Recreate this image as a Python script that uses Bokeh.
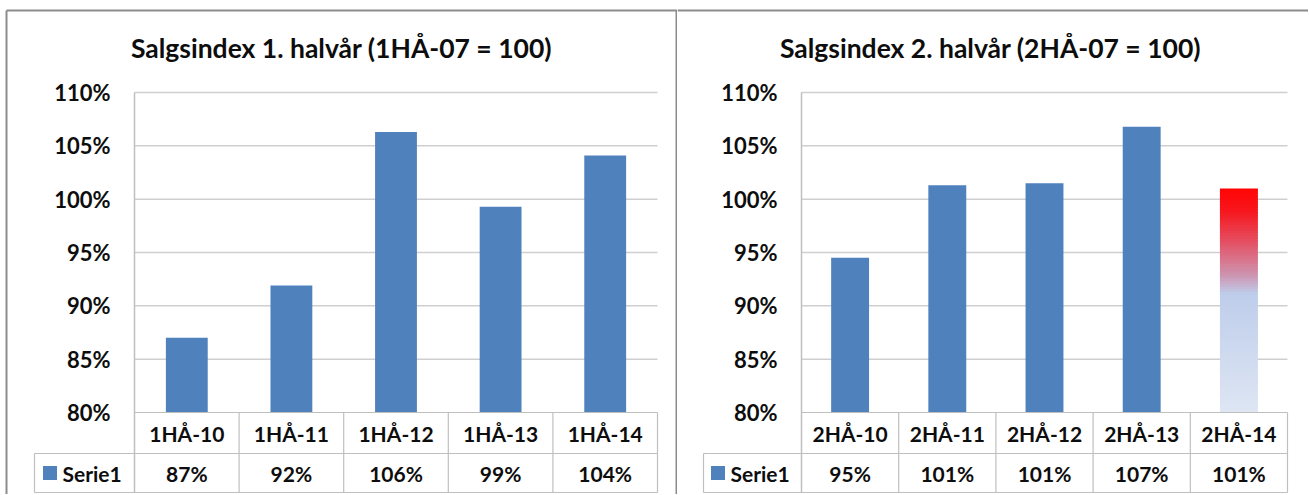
from bokeh.plotting import figure
from bokeh.models import Range1d, Label
from bokeh.layouts import row
from bokeh.core.properties import value
from bokeh.embed import file_html
from bokeh.resources import INLINE

# ---------------- data ----------------
title1 = "Salgsindex 1. halvår (1HÅ-07 = 100)"
cats1 = ["1HÅ-10", "1HÅ-11", "1HÅ-12", "1HÅ-13", "1HÅ-14"]
vals1 = [87.0, 91.9, 106.3, 99.3, 104.1]
labels1 = ["87%", "92%", "106%", "99%", "104%"]

title2 = "Salgsindex 2. halvår (2HÅ-07 = 100)"
cats2 = ["2HÅ-10", "2HÅ-11", "2HÅ-12", "2HÅ-13", "2HÅ-14"]
vals2 = [94.5, 101.3, 101.5, 106.8, 101.0]
labels2 = ["95%", "101%", "101%", "107%", "101%"]

series_name = "Serie1"
y_ticks = [80, 85, 90, 95, 100, 105, 110]
y_tick_labels = [f"{t}%" for t in y_ticks]

# ---------------- style ----------------
FONT_NAME = "Lato"
FONT = value(FONT_NAME)
BAR = "#4F81BD"
GRID = "#CFCFCF"
TABLE = "#BFBFBF"
FRAME = "#8C8C8C"
TXT = "#0D0D0D"
H = 494
Y_TOP_TICK_PX = 92    # pixel row of 110 %
Y_BASE_PX = 412       # pixel row of 80 %
ROW1_BOTTOM_PX = 453
ROW2_BOTTOM_PX = 492
TOP_BORDER_PX = 10
TITLE_BASELINE_PX = 47
GRAD_STOPS = [(0.0, (255, 5, 5)), (0.1, (247, 22, 28)), (0.25, (226, 85, 105)),
              (0.39, (205, 150, 178)), (0.47, (190, 205, 235)), (1.0, (222, 230, 243))]


def grad_color(t):
    for (t0, c0), (t1, c1) in zip(GRAD_STOPS[:-1], GRAD_STOPS[1:]):
        if t <= t1:
            f = 0 if t1 == t0 else (t - t0) / (t1 - t0)
            c = [round(a + (b - a) * f) for a, b in zip(c0, c1)]
            return "#%02x%02x%02x" % tuple(c)
    return "#%02x%02x%02x" % GRAD_STOPS[-1][1]


def panel(title, cats, vals, labels, W, plot_l, plot_r, leg_l, sq_cx, txt_l,
          tick_r, title_cx, bar_w, left_border_px=None, right_border_px=None, grad_idx=None):
    n = len(cats)
    ux = (plot_r - plot_l) / n
    ppu = (Y_BASE_PX - Y_TOP_TICK_PX) / (y_ticks[-1] - y_ticks[0])

    def X(px):
        return -0.5 + (px - plot_l) / ux

    def Y(px):
        return y_ticks[0] + (Y_BASE_PX - px) / ppu

    p = figure(width=W, height=H, x_range=Range1d(X(0), X(W)), y_range=Range1d(Y(H), Y(0)),
               output_backend="svg", toolbar_location=None, min_border=0,
               x_axis_location=None, y_axis_location=None)
    p.grid.visible = False
    p.outline_line_color = None
    p.background_fill_color = "white"
    p.border_fill_color = "white"

    xs = list(range(n))
    x_left, x_right = -0.5, n - 0.5
    y0 = y_ticks[0]
    r1b, r2b = Y(ROW1_BOTTOM_PX), Y(ROW2_BOTTOM_PX)

    # frame border of the chart object
    bx0 = X(left_border_px) if left_border_px is not None else X(0)
    p.segment(x0=[bx0], x1=[X(W)], y0=[Y(TOP_BORDER_PX)], y1=[Y(TOP_BORDER_PX)],
              line_color=FRAME, line_width=2)
    for bp in (left_border_px, right_border_px):
        if bp is not None:
            p.segment(x0=[X(bp)], x1=[X(bp)], y0=[Y(TOP_BORDER_PX)], y1=[Y(H)],
                      line_color=FRAME, line_width=2)

    # gridlines
    gt = [t for t in y_ticks if t > y0]
    p.segment(x0=[x_left] * len(gt), x1=[x_right] * len(gt), y0=gt, y1=gt,
              line_color=GRID, line_width=1.5)

    # bars
    for i, v in enumerate(vals):
        if grad_idx is not None and i == grad_idx:
            ns = 80
            step = (v - y0) / ns
            bots = [y0 + k * step for k in range(ns)]
            tops = [b + step * 1.6 if k < ns - 1 else v for k, b in enumerate(bots)]
            cols = [grad_color(1 - (k + 0.5) / ns) for k in range(ns)]
            p.quad(left=[i - bar_w / 2] * ns, right=[i + bar_w / 2] * ns, bottom=bots, top=tops,
                   fill_color=cols, line_color=None)
        else:
            p.quad(left=[i - bar_w / 2], right=[i + bar_w / 2], bottom=[y0], top=[v],
                   fill_color=BAR, line_color=None)

    # y tick labels
    p.text(x=[X(tick_r)] * len(y_ticks), y=y_ticks, text=y_tick_labels, text_align="right",
           text_baseline="middle", text_font=FONT, text_font_style="bold",
           text_font_size="22px", text_color=TXT)

    # axis line + table
    p.segment(x0=[x_left], x1=[x_left], y0=[y_ticks[-1]], y1=[r2b], line_color=TABLE, line_width=1.5)
    p.segment(x0=[x_left, X(leg_l), X(leg_l)], x1=[x_right, x_right, x_right],
              y0=[y0, r1b, r2b], y1=[y0, r1b, r2b], line_color=TABLE, line_width=1.2)
    vx = [i + 0.5 for i in range(n)]
    p.segment(x0=vx, x1=vx, y0=[y0] * n, y1=[r2b] * n, line_color=TABLE, line_width=1.2)
    p.segment(x0=[X(leg_l)], x1=[X(leg_l)], y0=[r1b], y1=[r2b], line_color=TABLE, line_width=1.2)

    p.text(x=xs, y=[(y0 + r1b) / 2] * n, text=cats, text_align="center", text_baseline="middle",
           text_font=FONT, text_font_style="bold", text_font_size="21px", text_color=TXT)
    p.text(x=xs, y=[(r1b + r2b) / 2] * n, text=labels, text_align="center", text_baseline="middle",
           text_font=FONT, text_font_style="bold", text_font_size="21px", text_color=TXT)

    # legend key
    p.rect(x=[X(sq_cx)], y=[(r1b + r2b) / 2], width=14, height=14, width_units="screen",
           height_units="screen", fill_color=BAR, line_color=None)
    p.text(x=[X(txt_l)], y=[(r1b + r2b) / 2], text=[series_name], text_align="left",
           text_baseline="middle", text_font=FONT, text_font_style="bold",
           text_font_size="21px", text_color=TXT)

    # title
    p.add_layout(Label(x=X(title_cx), y=Y(TITLE_BASELINE_PX), text=title, text_align="center",
                       text_baseline="alphabetic", text_font=FONT_NAME, text_font_style="bold",
                       text_font_size="26.5px", text_color=TXT))
    return p


p1 = panel(title1, cats1, vals1, labels1, W=677, plot_l=134, plot_r=657, leg_l=34,
           sq_cx=49.5, txt_l=62, tick_r=110, title_cx=341, bar_w=0.40,
           left_border_px=6, right_border_px=676)
p2 = panel(title2, cats2, vals2, labels2, W=631, plot_l=124, plot_r=610, leg_l=26,
           sq_cx=40.5, txt_l=53, tick_r=100, title_cx=313, bar_w=0.39, grad_idx=4)

layout = row(p1, p2)
open("out.html", "w").write(file_html(layout, INLINE))
